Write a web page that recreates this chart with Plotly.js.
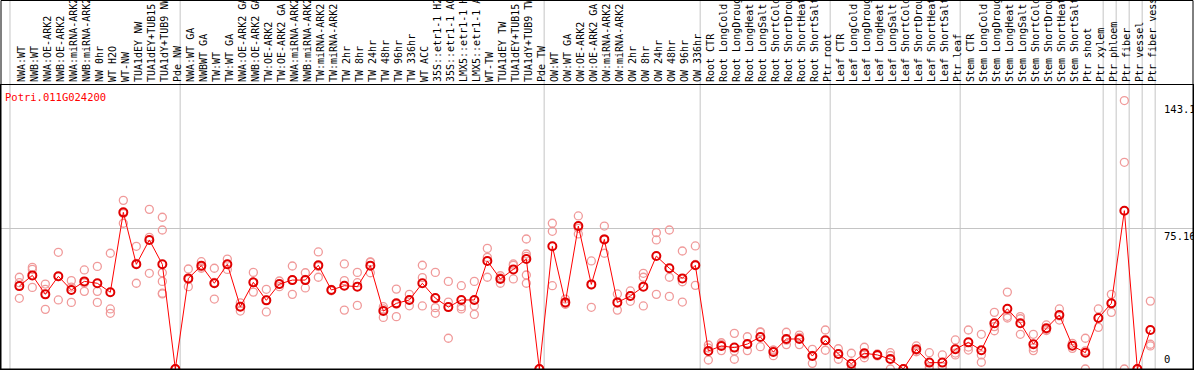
<!DOCTYPE html>
<html>
<head>
<meta charset="utf-8">
<script src="https://cdn.plot.ly/plotly-3.0.1.min.js"></script>
<style>html,body{margin:0;padding:0;background:#fff;}#chart{width:1194px;height:370px;}</style>
</head>
<body>
<div id="chart"></div>
<script>
const geneName = "Potri.011G024200";

const categories = [
  "NWA:WT","NWB:WT","NWA:OE-ARK2","NWB:OE-ARK2","NWA:miRNA-ARK2","NWB:miRNA-ARK2","NW 0hr","WT H2O","WT-NW",
  "TUA1dEY NW","TUA1dEY+TUB15","TUA1dY+TUB9 NW","Pde NW",
  "NWA:WT GA","NWBWT GA","TW:WT","TW:WT GA","NWA:OE-ARK2 GA","NWB:OE-ARK2 GA","TW:OE-ARK2","TW:OE-ARK2 GA",
  "NWA:miRNA-ARK2","NWB:miRNA-ARK2","TW:miRNA-ARK2","TW:miRNA-ARK2","TW 2hr","TW 8hr","TW 24hr","TW 48hr","TW 96hr","TW 336hr",
  "WT ACC","35S::etr1-1 H2O","35S::etr1-1 ACC","LMX5::etr1-1 H2O","LMX5::etr1-1 ACC","WT-TW","TUA1dEY TW","TUA1dEY+TUB15","TUA1dY+TUB9 TW","Pde TW",
  "OW:WT","OW:WT GA","OW:OE-ARK2","OW:OE-ARK2 GA","OW:miRNA-ARK2","OW:miRNA-ARK2","OW 2hr","OW 8hr","OW 24hr","OW 48hr","OW 96hr","OW 336hr",
  "Root CTR","Root LongCold","Root LongDrought","Root LongHeat","Root LongSalt","Root ShortCold","Root ShortDrought","Root ShortHeat","Root ShortSalt","Ptr root",
  "Leaf CTR","Leaf LongCold","Leaf LongDrought","Leaf LongHeat","Leaf LongSalt","Leaf ShortCold","Leaf ShortDrought","Leaf ShortHeat","Leaf ShortSalt","Ptr leaf",
  "Stem CTR","Stem LongCold","Stem LongDrought","Stem LongHeat","Stem LongSalt","Stem ShortCold","Stem ShortDrought","Stem ShortHeat","Stem ShortSalt","Ptr shoot","Ptr xylem",
  "Ptr phloem","Ptr fiber","Ptr vessel","Ptr fiber vessel"
];

const means = [
  44.2,49.9,39.8,49.4,42.1,46.7,45.7,40.9,83.5,55.8,68.8,55.8,0,
  48.3,55.1,45.7,55.8,33.2,46.2,36.6,45.3,47.4,47.4,55.3,42.1,44.4,43.9,55.1,30.9,35.0,36.8,
  45.7,37.8,33.0,36.8,36.8,57.6,48.0,53.1,58.6,0,
  65.4,35.5,76.2,45.1,69.1,35.5,38.9,43.9,60.2,53.7,48.3,55.3,
  9.6,12.3,11.4,13.3,17.1,9.1,16.0,16.0,6.9,15.3,
  8.0,2.8,8.4,7.5,5.3,0,10.5,3.4,3.4,10.5,
  14.2,10.0,24.4,32.1,24.4,13.2,21.7,28.8,12.4,8.7,27.2,
  35.0,84.4,0,20.8
];

const replicates = [
  [48.9,46.0,37.7],[54.2,53.1,43.5],[45.3,42.5,31.8],[62.2,49.2,36.8],[47.1,43.7,35.5],[52.8,45.9,41.4],
  [54.7,41.4,35.5],[61.7,32.0,29.7],[89.9,82.9,77.7],[65.4,56.3,45.7],[85.1,70.2,51.0],[80.9,74.1,51.3,46.7,40.4,40.0],[0,0,0],
  [53.3,47.7,43.9],[57.2,54.4,53.7],[53.7,46.1,37.3],[58.6,55.7,53.1],[35.3,33.4,30.9],[51.5,46.1,41.0],[42.5,36.9,30.4],[46.9,45.1,43.9],
  [54.9,47.5,39.8],[51.3,47.7,43.2],[62.4,54.6,48.9],[42.5,41.7],[56.0,47.1,31.4],[51.5,46.0,33.9],[56.9,57.1,51.3],[33.2,32.0,27.5],[42.6,34.5,27.9],[39.8,36.9,33.7],
  [55.3,48.7,33.6],[51.5,32.7,29.7],[46.7,35.7,16.4],[44.4,33.2,32.0],[46.7,33.6,29.1],[64.3,59.5,48.9],[49.7,48.6,45.7],[56.0,55.3,48.0],[69.3,61.3,60.0,50.1,45.7],[0,0,0],
  [77.7,73.4,44.4],[37.3,34.7,34.5],[81.6,75.0,72.0],[57.6,44.8,32.9],[76.2,69.4,61.7],[40.0,35.1,31.4],[41.6,39.0,36.1],[51.0,48.9,33.6],[72.7,68.8,39.8],[74.1,48.9,38.7],[62.9,46.5,35.7],[65.6,55.7,44.6],
  [12.8,11.2,4.8],[14.0,13.1,9.8],[19.0,9.6,5.2],[17.2,13.0,9.8],[19.8,19.6,11.9],[10.1,10.0,7.1],[19.6,15.4,13.0],[18.1,16.9,13.0],[10.5,7.2,3.0],[20.8,15.1,10.0],
  [10.8,8.0,5.2],[8.4,0,0],[11.6,7.6,6.0],[8.0,7.5,7.0],[8.7,7.2,0],[0,0,0],[12.3,10.0,9.2],[8.7,1.2,0],[7.5,1.5,1.2],[15.5,8.5,7.5],
  [20.8,11.7,10.1],[18.5,7.5,3.6],[30.2,22.6,20.4],[41.0,28.1,27.2],[27.9,26.8,18.5],[18.5,11.3,9.8],[23.5,21.1,20.5],[32.0,28.3,26.1],[13.7,12.5,11.0],[16.4,9.7,0],[32.0,27.4,22.2],
  [39.8,35.0,30.2],[143.1,110.2,0],[0,0,0],[36.2,13.2,12.3]
];

// index of the last category of each group (separator lines drawn after them)
const groupEnds = [12, 40, 52, 62, 72, 83, 84, 85, 86, 87];
const yTickVals = [0, 75.16, 143.1];
const yTickText = ["0", "75.16", "143.1"];

const idx = categories.map((_, i) => i);
const repX = [], repY = [];
replicates.forEach((r, i) => r.forEach(v => { repX.push(i); repY.push(v); }));

const xRange = [-1.41, 90.28];
const yRange = [0, 151.4];
const toPaperX = v => (v - xRange[0]) / (xRange[1] - xRange[0]);
const topPaper = 368.5 / 284;

const sepPositions = [-0.72].concat(groupEnds.map(g => g + 0.37));
const shapes = sepPositions.map(p => ({
  type: 'line', xref: 'paper', yref: 'paper', layer: 'below',
  x0: toPaperX(p), x1: toPaperX(p), y0: 0, y1: topPaper,
  line: {color: '#c4c4c4', width: 1}
}));
shapes.push({type: 'rect', xref: 'paper', yref: 'paper', x0: 0, x1: 1, y0: 0, y1: topPaper,
  line: {color: '#000', width: 1}, fillcolor: 'rgba(0,0,0,0)'});

const mono = '"DejaVu Sans Mono", "Liberation Mono", monospace';

const annotations = [
  {xref: 'paper', yref: 'paper', x: 0.002, y: 0.985, xanchor: 'left', yanchor: 'top',
   text: geneName, showarrow: false, font: {family: mono, size: 10.5, color: '#ff0000'}},
  {xref: 'paper', yref: 'y', x: 0.974, y: yTickVals[2], xanchor: 'left', yanchor: 'top',
   text: yTickText[2], showarrow: false, font: {family: mono, size: 10.5, color: '#000'}},
  {xref: 'paper', yref: 'y', x: 0.974, y: yTickVals[1], xanchor: 'left', yanchor: 'top',
   text: yTickText[1], showarrow: false, font: {family: mono, size: 10.5, color: '#000'}},
  {xref: 'paper', yref: 'y', x: 0.974, y: yTickVals[0], xanchor: 'left', yanchor: 'bottom', yshift: 2,
   text: yTickText[0], showarrow: false, font: {family: mono, size: 10.5, color: '#000'}}
];

const traces = [
  {x: repX, y: repY, type: 'scatter', mode: 'markers', hoverinfo: 'skip',
   marker: {symbol: 'circle-open', size: 8, color: '#f09a9a', line: {width: 1.3, color: '#f09a9a'}}},
  {x: idx, y: means, type: 'scatter', mode: 'lines+markers',
   line: {color: '#ff0000', width: 1},
   marker: {symbol: 'circle-open', size: 8, color: '#e00000', line: {width: 2, color: '#e00000'}}}
];

const layout = {
  width: 1194, height: 370,
  margin: {l: 1, r: 1, t: 85, b: 1, pad: 0},
  paper_bgcolor: '#fff', plot_bgcolor: '#fff',
  showlegend: false,
  xaxis: {
    range: xRange, side: 'top', tickmode: 'array', tickvals: idx, ticktext: categories,
    tickangle: -90, ticks: '', ticklen: 0, showgrid: false, zeroline: false, ticklabelshift: 2,
    showline: true, mirror: true, linecolor: '#000', linewidth: 1,
    tickfont: {family: mono, size: 10, color: '#000'}, automargin: false
  },
  yaxis: {
    range: yRange, tickmode: 'array', tickvals: [yTickVals[1]], showticklabels: false, ticks: '',
    showgrid: true, gridcolor: '#c4c4c4', gridwidth: 1, zeroline: false,
    showline: true, mirror: true, linecolor: '#000', linewidth: 1, automargin: false
  },
  shapes: shapes,
  annotations: annotations
};

Plotly.newPlot('chart', traces, layout, {displayModeBar: false, staticPlot: true});
</script>
</body>
</html>
